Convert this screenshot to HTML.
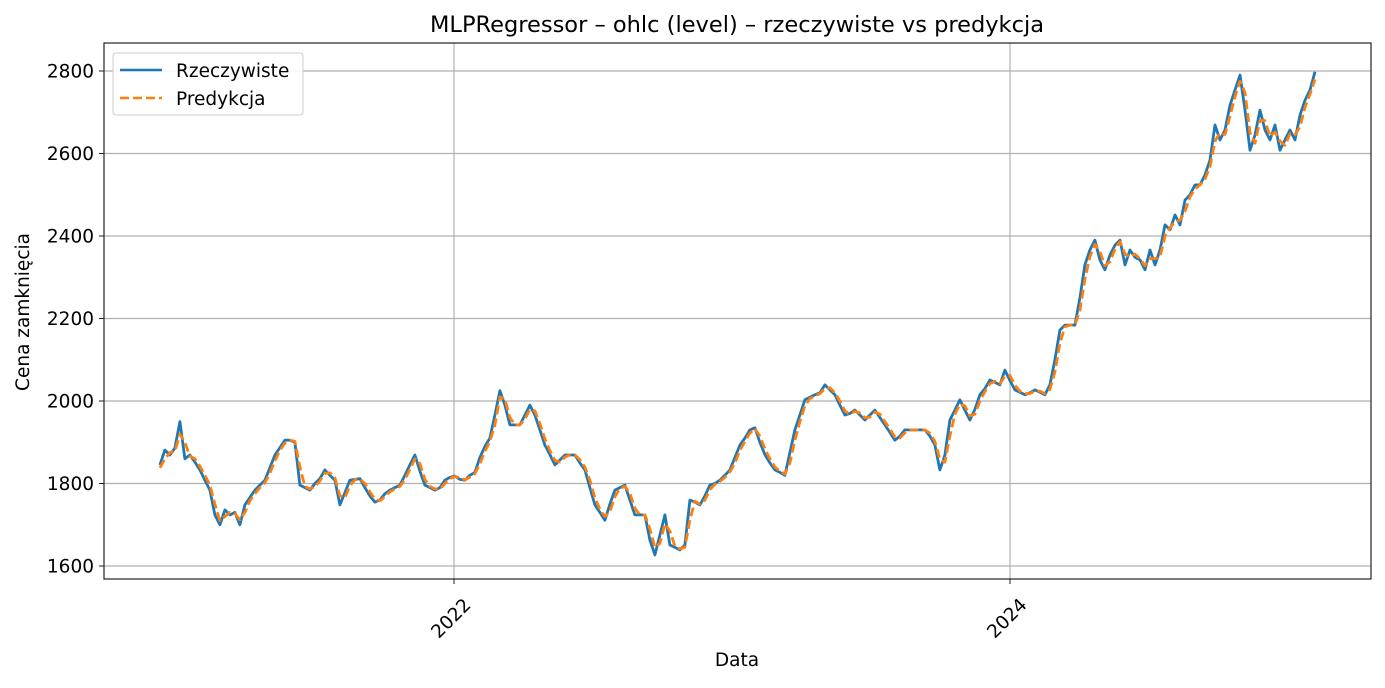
<!DOCTYPE html>
<html><head><meta charset="utf-8"><style>
html,body{margin:0;padding:0;background:#fff;}
svg text{font-family:"DejaVu Sans","Liberation Sans",sans-serif;fill:#000;}
</style></head><body>
<svg id="chart" width="1385" height="683" xmlns="http://www.w3.org/2000/svg">
<rect width="1385" height="683" fill="#fff"/>
<text x="737" y="32" font-size="22.5" text-anchor="middle">MLPRegressor – ohlc (level) – rzeczywiste vs predykcja</text>
<g id="grid"></g>
<g id="plot"></g>
<rect x="104" y="43" width="1267" height="536" fill="none" stroke="#222" stroke-width="1.2"/>
<g id="axes"></g>
<text transform="translate(29,312) rotate(-90)" font-size="18.5" text-anchor="middle">Cena zamknięcia</text>
<text x="737" y="666" font-size="18.5" text-anchor="middle">Data</text>
<g>
<rect x="113" y="53" width="190" height="62" rx="3" fill="#fff" fill-opacity="0.85" stroke="#ccc"/>
<line x1="120" y1="70" x2="162" y2="70" stroke="#1f77b4" stroke-width="2.5"/>
<text x="176" y="77" font-size="18.5">Rzeczywiste</text>
<line x1="120" y1="98" x2="162" y2="98" stroke="#ff7f0e" stroke-width="2.5" stroke-dasharray="9,4"/>
<text x="176" y="105" font-size="18.5">Predykcja</text>
</g>
</svg>
<script>
const startYear = 2020.942;
const endYear = 2025.097;
const yTicks = [1600, 1800, 2000, 2200, 2400, 2600, 2800];
const xTicks = [2022, 2024];
const xTickLabels = ["2022", "2024"];
const actual = [1845,1881,1869,1886,1950,1860,1869,1852,1833,1808,1784,1724,1700,1736,1724,1730,1700,1748,1766,1784,1796,1808,1838,1869,1887,1905,1905,1900,1796,1790,1784,1800,1812,1833,1820,1808,1748,1778,1808,1810,1812,1790,1770,1755,1760,1775,1784,1790,1796,1820,1845,1869,1830,1796,1790,1784,1790,1808,1815,1818,1810,1808,1820,1827,1863,1890,1910,1966,2025,1990,1942,1942,1942,1966,1990,1966,1930,1893,1870,1845,1857,1869,1869,1869,1850,1833,1790,1748,1730,1711,1750,1784,1790,1796,1760,1724,1724,1724,1663,1627,1675,1724,1651,1645,1639,1651,1760,1755,1748,1770,1796,1800,1808,1820,1833,1863,1893,1910,1930,1935,1900,1870,1850,1833,1827,1820,1875,1930,1966,2003,2009,2015,2020,2039,2027,2015,1990,1966,1970,1978,1966,1954,1966,1978,1960,1942,1924,1905,1915,1930,1930,1930,1930,1930,1915,1893,1833,1869,1954,1978,2003,1978,1954,1980,2015,2030,2051,2045,2039,2075,2050,2027,2021,2015,2020,2027,2021,2015,2039,2100,2172,2184,2184,2184,2250,2330,2366,2390,2342,2318,2354,2378,2390,2330,2366,2348,2342,2318,2366,2330,2366,2427,2415,2451,2427,2487,2500,2524,2524,2548,2584,2669,2633,2657,2717,2754,2790,2705,2608,2645,2705,2657,2633,2669,2608,2633,2657,2633,2693,2729,2754,2798];
const predicted = [1838,1860,1875,1878,1920,1900,1866,1860,1842,1820,1796,1750,1710,1720,1730,1727,1712,1730,1758,1775,1790,1802,1825,1855,1880,1898,1905,1902,1840,1793,1787,1792,1806,1825,1826,1814,1770,1765,1795,1809,1811,1800,1780,1762,1758,1768,1780,1787,1793,1810,1834,1860,1848,1810,1793,1787,1787,1800,1812,1817,1814,1809,1815,1824,1848,1878,1902,1942,2010,2005,1960,1942,1942,1956,1980,1976,1945,1908,1880,1856,1852,1864,1869,1869,1858,1840,1808,1765,1738,1720,1732,1768,1788,1793,1776,1740,1724,1724,1690,1645,1655,1702,1685,1648,1642,1645,1712,1757,1750,1760,1785,1798,1805,1815,1828,1850,1880,1902,1922,1933,1915,1884,1860,1840,1830,1823,1850,1905,1950,1988,2006,2012,2018,2030,2032,2020,2000,1976,1968,1975,1971,1959,1961,1973,1968,1950,1932,1913,1910,1923,1930,1930,1930,1930,1922,1902,1858,1852,1915,1968,1992,1988,1964,1968,2000,2023,2042,2048,2042,2060,2062,2038,2024,2018,2018,2024,2024,2018,2028,2070,2140,2180,2184,2184,2220,2295,2350,2380,2362,2328,2338,2368,2386,2356,2350,2356,2345,2328,2345,2345,2350,2400,2420,2435,2438,2460,2495,2514,2524,2538,2568,2630,2650,2646,2690,2738,2775,2748,2650,2625,2680,2680,2642,2652,2630,2620,2648,2645,2665,2712,2744,2780];

const NS = "http://www.w3.org/2000/svg";
const X = yr => 454 + (yr - 2022) * 278;
const Y = v => 566 - (v - 1600) * 82.5 / 200;
const dateAt = (i, n) => startYear + (endYear - startYear) * i / (n - 1);
function mk(tag, attrs, parent) {
  const e = document.createElementNS(NS, tag);
  for (const k in attrs) e.setAttribute(k, attrs[k]);
  parent.appendChild(e);
  return e;
}
const grid = document.getElementById('grid');
const axes = document.getElementById('axes');
const plot = document.getElementById('plot');
yTicks.forEach(v => {
  const g = mk('line', {x1:104, x2:1371, y1:Y(v), y2:Y(v), stroke:'#b0b0b0', 'stroke-width':1.2}, grid);
  
  
  const t = mk('line', {x1:99, x2:104, y1:Y(v), y2:Y(v), stroke:'#222', 'stroke-width':1}, axes);
  
  
  const l = mk('text', {x:94, y:Y(v)+6.5, 'font-size':18.5, 'text-anchor':'end'}, axes);
  l.textContent = v;
  
  
});
xTicks.forEach((yr, i) => {
  const g = mk('line', {x1:X(yr), x2:X(yr), y1:43, y2:579, stroke:'#b0b0b0', 'stroke-width':1.2}, grid);
  
  
  const t = mk('line', {x1:X(yr), x2:X(yr), y1:579, y2:584, stroke:'#222', 'stroke-width':1}, axes);
  
  
  const l = mk('text', {transform:`translate(${X(yr)+18},${606}) rotate(-45)`, 'font-size':18.5, 'text-anchor':'end'}, axes);
  l.textContent = xTickLabels[i];
  
  
});
function path(arr) {
  return arr.map((v, i) => (i ? 'L' : 'M') + X(dateAt(i, arr.length)).toFixed(1) + ',' + Y(v).toFixed(1)).join('');
}
const a = mk('path', {d:path(actual), fill:'none', stroke:'#1f77b4', 'stroke-width':2.8, 'stroke-linejoin':'round'}, plot);


const p = mk('path', {d:path(predicted), fill:'none', stroke:'#ff7f0e', 'stroke-width':2.8, 'stroke-dasharray':'9,4', 'stroke-linejoin':'round'}, plot);


</script>
</body></html>
